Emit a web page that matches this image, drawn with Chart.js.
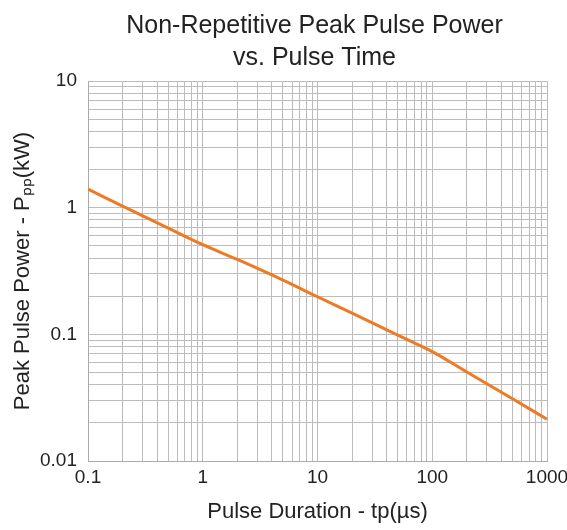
<!DOCTYPE html>
<html>
<head>
<meta charset="utf-8">
<script src="https://cdn.jsdelivr.net/npm/chart.js@4.4.1/dist/chart.umd.min.js"></script>
<style>
  html, body { margin: 0; padding: 0; background: #fff; }
  #wrap { width: 567px; height: 530px; }
</style>
</head>
<body>
<div id="wrap"><canvas id="pulseChart" width="567" height="530"></canvas></div>
<script>
// Data (pulse time in µs, peak power in kW)
const pulseTime = [0.1, 0.2, 0.5, 1, 2, 5, 10, 20, 50, 100, 200, 500, 1000];
const peakPower = [1.40, 1.03, 0.69, 0.51, 0.39, 0.268, 0.198, 0.147, 0.0986, 0.073, 0.0504, 0.031, 0.0214];

// Axis decades and their labels
const xDecades = [0.1, 1, 10, 100, 1000];
const xTickLabels = ['0.1', '1', '10', '100', '1000'];
const yDecades = [0.01, 0.1, 1, 10];
const yTickLabels = ['0.01', '0.1', '1', '10'];
const minorSteps = [1, 2, 3, 4, 5, 6, 7, 8, 9];

const titleLines = ['Non-Repetitive Peak Pulse Power', 'vs. Pulse Time'];

const fontName = '"Liberation Sans", Arial, Helvetica, sans-serif';
const gridGray = '#bcbcbc';
const textColor = '#222';

// gridlines at 1..9 of every decade, label only on the decade itself
function logTicks(decades) {
    const list = [];
    for (let i = 0; i < decades.length; i++) {
        if (i === decades.length - 1) {
            list.push({ value: decades[i] });
            break;
        }
        minorSteps.forEach(function(m) {
            list.push({ value: +(decades[i] * m).toPrecision(6) });
        });
    }
    return list;
}

function labelFor(value, decades, labels) {
    for (let i = 0; i < decades.length; i++) {
        if (Math.abs(value - decades[i]) / decades[i] < 1e-6) return labels[i];
    }
    return '';
}

// title centred over the plot area rather than the whole canvas
const plotTitle = {
    id: 'plotTitle',
    afterDraw: function(chart) {
        const c = chart.ctx;
        const area = chart.chartArea;
        const cx = (area.left + area.right) / 2 - 3;
        c.save();
        c.fillStyle = textColor;
        c.font = '25px ' + fontName;
        c.textAlign = 'center';
        c.textBaseline = 'alphabetic';
        c.fillText(titleLines[0], cx, 33);
        c.fillText(titleLines[1], cx, 65);
        c.restore();
    }
};

const points = pulseTime.map(function(t, i) { return { x: t, y: peakPower[i] }; });

const ctx = document.getElementById('pulseChart').getContext('2d');
const pulseChart = new Chart(ctx, {
    type: 'line',
    data: {
        datasets: [{
            data: points,
            borderColor: '#f07a22',
            borderWidth: 3,
            pointRadius: 0,
            cubicInterpolationMode: 'monotone',
            fill: false
        }]
    },
    options: {
        responsive: false,
        animation: false,
        devicePixelRatio: 1,
        layout: { padding: { top: 81, right: 20, bottom: 0, left: 0 } },
        plugins: {
            legend: { display: false },
            tooltip: { enabled: false },
            title: { display: false }
        },
        scales: {
            x: {
                type: 'logarithmic',
                min: 0.1,
                max: 1000,
                afterBuildTicks: function(scale) { scale.ticks = logTicks(xDecades); },
                afterFit: function(scale) {
                    scale.height = 69;
                    scale.paddingRight = 0;
                    scale.paddingLeft = 0;
                },
                grid: { color: gridGray, lineWidth: 1, drawTicks: false },
                border: { color: '#aaa' },
                ticks: {
                    autoSkip: false,
                    maxRotation: 0,
                    padding: 5,
                    color: textColor,
                    font: { family: fontName, size: 19 },
                    callback: function(value) { return labelFor(value, xDecades, xTickLabels); }
                },
                title: {
                    display: true,
                    text: 'Pulse Duration - tp(µs)',
                    color: textColor,
                    font: { family: fontName, size: 22 },
                    padding: { top: 0, bottom: 5 }
                }
            },
            y: {
                type: 'logarithmic',
                min: 0.01,
                max: 10,
                afterBuildTicks: function(scale) { scale.ticks = logTicks(yDecades); },
                afterFit: function(scale) { scale.width = 88; },
                grid: { color: gridGray, lineWidth: 1, drawTicks: false },
                border: { color: '#aaa' },
                ticks: {
                    autoSkip: false,
                    padding: 11,
                    color: textColor,
                    font: { family: fontName, size: 19 },
                    callback: function(value) { return labelFor(value, yDecades, yTickLabels); }
                },
                title: {
                    display: true,
                    text: 'Peak Pulse Power - Pₚₚ(kW)',
                    color: textColor,
                    font: { family: fontName, size: 22 },
                    padding: { top: 10, bottom: 0 }
                }
            }
        }
    },
    plugins: [plotTitle]
});
</script>
</body>
</html>
